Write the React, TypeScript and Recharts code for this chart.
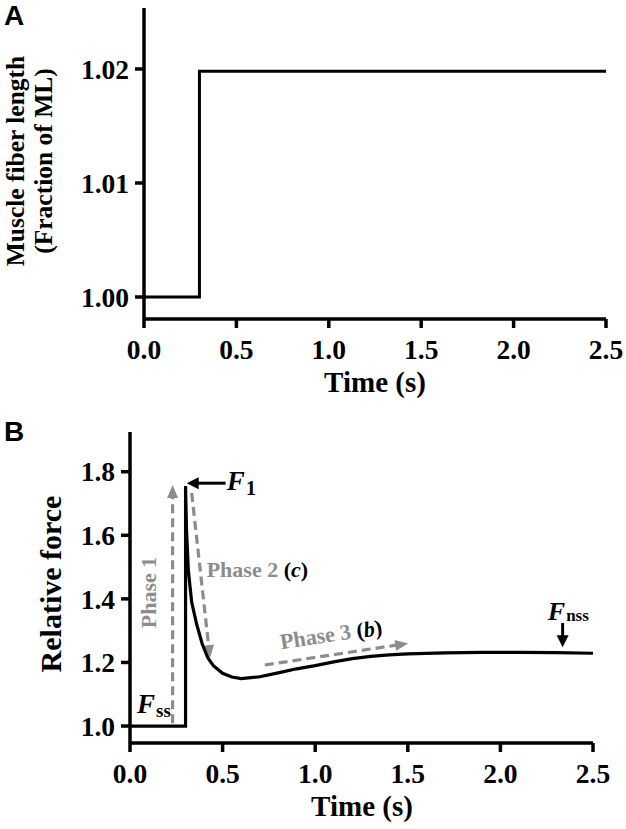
import React from 'react';
import { LineChart, Line, XAxis, YAxis, ReferenceLine, ReferenceDot, Label } from 'recharts';

// ---------- data ----------
const timeTicks = [0, 0.5, 1.0, 1.5, 2.0, 2.5];
const lengthTicks = [1.0, 1.01, 1.02];
const forceTicks = [1.0, 1.2, 1.4, 1.6, 1.8];

// Panel A: muscle fiber length step
const lengthTime = [0, 0.3, 0.3, 2.5];
const lengthValue = [1.0, 1.0, 1.0198, 1.0198];

// Panel B: relative force response
const forceTime = [0, 0.3, 0.3, 0.305, 0.315, 0.333, 0.36, 0.39, 0.42, 0.45, 0.5, 0.55, 0.6, 0.7, 0.8, 0.9, 1.0, 1.1, 1.2, 1.3, 1.4, 1.5, 1.7, 1.9, 2.1, 2.3, 2.5];
const forceValue = [1.0, 1.0, 1.755, 1.62, 1.49, 1.39, 1.32, 1.258, 1.215, 1.19, 1.166, 1.154, 1.149, 1.155, 1.167, 1.18, 1.19, 1.202, 1.212, 1.219, 1.224, 1.227, 1.23, 1.232, 1.232, 1.231, 1.229];

// Annotation arrows (time, force) start -> tip
const phaseArrowStart = [[0.23, 1.009], [0.333, 1.733], [0.728, 1.192]];
const phaseArrowTip = [[0.23, 1.758], [0.432, 1.214], [1.502, 1.26]];
const markerArrowStart = [[0.516, 1.764], [2.336, 1.324]];
const markerArrowTip = [[0.306, 1.764], [2.336, 1.248]];

// Annotation text anchors (time, force)
const phase1Anchor = [0.099, 1.42];
const phase2Anchor = [0.414, 1.494];
const phase3Anchor = [1.085, 1.289];
const f1Anchor = [0.523, 1.742];
const fssAnchor = [0.038, 1.041];
const fnssAnchor = [2.256, 1.333];

const lengthData = lengthTime.map((t, i) => ({ t, v: lengthValue[i] }));
const forceData = forceTime.map((t, i) => ({ t, v: forceValue[i] }));

// ---------- styles ----------
const SERIF = '"Liberation Serif", "Times New Roman", serif';
const SANS = '"Liberation Sans", Arial, sans-serif';
const GRAY = '#8c8c8c';
const AXIS_W = 3.5;

const tickStyle = { fill: '#000', fontSize: 27.5, fontFamily: SERIF, fontWeight: 'bold' as const };

function makeArrow(color: string, dashed: boolean, width: number, headLen: number, headW: number) {
  return (p: any) => {
    const { x1, y1, x2, y2 } = p;
    const dx = x2 - x1;
    const dy = y2 - y1;
    const len = Math.hypot(dx, dy) || 1;
    const ux = dx / len;
    const uy = dy / len;
    const bx = x2 - ux * headLen;
    const by = y2 - uy * headLen;
    const px = -uy;
    const py = ux;
    return (
      <g>
        <line x1={x1} y1={y1} x2={bx + ux * 1} y2={by + uy * 1} stroke={color} strokeWidth={width} strokeDasharray={dashed ? '9 5' : undefined} />
        <polygon
          points={`${x2},${y2} ${bx + (px * headW) / 2},${by + (py * headW) / 2} ${bx - (px * headW) / 2},${by - (py * headW) / 2}`}
          fill={color}
        />
      </g>
    );
  };
}

const dashedArrow = makeArrow(GRAY, true, 3.2, 13, 11);
const solidArrow = makeArrow('#000', false, 3, 12, 12);

const textShape = (render: (cx: number, cy: number) => React.ReactElement) => (p: any) => render(p.cx, p.cy);

export default function App() {
  return (
    <div style={{ position: 'absolute', left: 0, top: 0, width: 626, height: 829, background: '#fff' }}>
      {/* Panel A */}
      <div style={{ position: 'absolute', left: 0, top: 0 }}>
        <LineChart width={626} height={410} data={lengthData} margin={{ top: 8, right: 20, bottom: 0, left: 84 }}>
          <XAxis
            dataKey="t"
            type="number"
            domain={[0, 2.5]}
            ticks={timeTicks}
            tickFormatter={(v: number) => v.toFixed(1)}
            height={91}
            tick={tickStyle}
            tickSize={9}
            tickMargin={11}
            axisLine={{ stroke: '#000', strokeWidth: AXIS_W }}
            tickLine={{ stroke: '#000', strokeWidth: AXIS_W }}
            interval={0}
          >
            <Label
              content={() => (
                <text x={375} y={392} textAnchor="middle" fontFamily={SERIF} fontWeight="bold" fontSize={29} fill="#000">
                  Time (s)
                </text>
              )}
            />
          </XAxis>
          <YAxis
            type="number"
            domain={[0.99807, 1.02535]}
            allowDataOverflow
            ticks={lengthTicks}
            tickFormatter={(v: number) => v.toFixed(2)}
            width={60}
            tick={tickStyle}
            tickSize={9}
            tickMargin={6}
            axisLine={{ stroke: '#000', strokeWidth: AXIS_W }}
            tickLine={{ stroke: '#000', strokeWidth: AXIS_W }}
            interval={0}
          >
            <Label
              content={() => (
                <g>
                  <text x={4} y={25} fontFamily={SANS} fontWeight="bold" fontSize={28} fill="#000">A</text>
                  <text
                    x={24}
                    y={161}
                    transform="rotate(-90, 24, 161)"
                    textAnchor="middle"
                    fontFamily={SERIF}
                    fontWeight="bold"
                    fontSize={25.5}
                    fill="#000"
                  >
                    Muscle fiber length
                  </text>
                  <text
                    x={52}
                    y={161}
                    transform="rotate(-90, 52, 161)"
                    textAnchor="middle"
                    fontFamily={SERIF}
                    fontWeight="bold"
                    fontSize={25.5}
                    fill="#000"
                  >
                    (Fraction of ML)
                  </text>
                </g>
              )}
            />
          </YAxis>
          <Line type="linear" dataKey="v" stroke="#000" strokeWidth={3} dot={false} isAnimationActive={false} />
        </LineChart>
      </div>

      {/* Panel B */}
      <div style={{ position: 'absolute', left: 0, top: 410 }}>
        <LineChart width={626} height={419} data={forceData} margin={{ top: 22, right: 33, bottom: 0, left: 70 }}>
          <XAxis
            dataKey="t"
            type="number"
            domain={[0, 2.5]}
            ticks={timeTicks}
            tickFormatter={(v: number) => v.toFixed(1)}
            height={86}
            tick={tickStyle}
            tickSize={9}
            tickMargin={11}
            axisLine={{ stroke: '#000', strokeWidth: AXIS_W }}
            tickLine={{ stroke: '#000', strokeWidth: AXIS_W }}
            interval={0}
          >
            <Label
              content={() => (
                <text x={362} y={406} textAnchor="middle" fontFamily={SERIF} fontWeight="bold" fontSize={29} fill="#000">
                  Time (s)
                </text>
              )}
            />
          </XAxis>
          <YAxis
            type="number"
            domain={[0.9466, 1.925]}
            allowDataOverflow
            ticks={forceTicks}
            tickFormatter={(v: number) => v.toFixed(1)}
            width={60}
            tick={tickStyle}
            tickSize={9}
            tickMargin={6}
            axisLine={{ stroke: '#000', strokeWidth: AXIS_W }}
            tickLine={{ stroke: '#000', strokeWidth: AXIS_W }}
            interval={0}
          >
            <Label
              content={() => (
                <g>
                  <text x={4} y={31} fontFamily={SANS} fontWeight="bold" fontSize={28} fill="#000">B</text>
                  <text
                    x={50}
                    y={174}
                    transform="rotate(-90, 50, 174)"
                    textAnchor="middle"
                    dominantBaseline="central"
                    fontFamily={SERIF}
                    fontWeight="bold"
                    fontSize={30}
                    fill="#000"
                  >
                    Relative force
                  </text>
                </g>
              )}
            />
          </YAxis>

          {phaseArrowStart.map((s, i) => (
            <ReferenceLine
              key={`pa${i}`}
              segment={[{ x: s[0], y: s[1] }, { x: phaseArrowTip[i][0], y: phaseArrowTip[i][1] }]}
              ifOverflow="visible"
              shape={dashedArrow}
            />
          ))}

          <Line type="linear" dataKey="v" stroke="#000" strokeWidth={3.2} dot={false} isAnimationActive={false} />

          {markerArrowStart.map((s, i) => (
            <ReferenceLine
              key={`ma${i}`}
              segment={[{ x: s[0], y: s[1] }, { x: markerArrowTip[i][0], y: markerArrowTip[i][1] }]}
              ifOverflow="visible"
              shape={solidArrow}
            />
          ))}

          <ReferenceDot
            x={phase1Anchor[0]}
            y={phase1Anchor[1]}
            r={1}
            ifOverflow="visible"
            shape={textShape((cx, cy) => (
              <text
                x={cx}
                y={cy}
                transform={`rotate(-90, ${cx}, ${cy})`}
                textAnchor="middle"
                dominantBaseline="central"
                fontFamily={SERIF}
                fontWeight="bold"
                fontSize={22}
                fill={GRAY}
              >
                Phase 1
              </text>
            ))}
          />
          <ReferenceDot
            x={phase2Anchor[0]}
            y={phase2Anchor[1]}
            r={1}
            ifOverflow="visible"
            shape={textShape((cx, cy) => (
              <text x={cx} y={cy} dominantBaseline="central" fontFamily={SERIF} fontWeight="bold" fontSize={22} fill={GRAY}>
                Phase 2 <tspan fill="#000">(</tspan>
                <tspan fill="#000" fontStyle="italic">c</tspan>
                <tspan fill="#000">)</tspan>
              </text>
            ))}
          />
          <ReferenceDot
            x={phase3Anchor[0]}
            y={phase3Anchor[1]}
            r={1}
            ifOverflow="visible"
            shape={textShape((cx, cy) => (
              <text
                x={cx}
                y={cy}
                transform={`rotate(-8.5, ${cx}, ${cy})`}
                textAnchor="middle"
                dominantBaseline="central"
                fontFamily={SERIF}
                fontWeight="bold"
                fontSize={22}
                fill={GRAY}
              >
                Phase 3 <tspan fill="#000">(</tspan>
                <tspan fill="#000" fontStyle="italic">b</tspan>
                <tspan fill="#000">)</tspan>
              </text>
            ))}
          />
          <ReferenceDot
            x={f1Anchor[0]}
            y={f1Anchor[1]}
            r={1}
            ifOverflow="visible"
            shape={textShape((cx, cy) => (
              <text x={cx} y={cy} fontFamily={SERIF} fontWeight="bold" fontSize={27} fill="#000">
                <tspan fontStyle="italic">F</tspan>
                <tspan fontSize={20} dy={5} dx={1}>1</tspan>
              </text>
            ))}
          />
          <ReferenceDot
            x={fssAnchor[0]}
            y={fssAnchor[1]}
            r={1}
            ifOverflow="visible"
            shape={textShape((cx, cy) => (
              <text x={cx} y={cy} fontFamily={SERIF} fontWeight="bold" fontSize={27} fill="#000">
                <tspan fontStyle="italic">F</tspan>
                <tspan fontSize={19} dy={4} dx={1}>ss</tspan>
              </text>
            ))}
          />
          <ReferenceDot
            x={fnssAnchor[0]}
            y={fnssAnchor[1]}
            r={1}
            ifOverflow="visible"
            shape={textShape((cx, cy) => (
              <text x={cx} y={cy} fontFamily={SERIF} fontWeight="bold" fontSize={26} fill="#000">
                <tspan fontStyle="italic">F</tspan>
                <tspan fontSize={17} dy={1} dx={1}>nss</tspan>
              </text>
            ))}
          />
        </LineChart>
      </div>
    </div>
  );
}
